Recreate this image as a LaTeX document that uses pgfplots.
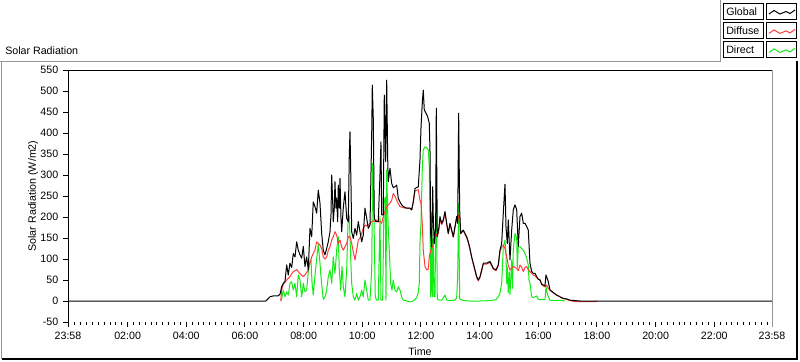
\documentclass[border=0pt]{standalone}
\usepackage{fontspec}
\setmainfont{Liberation Sans}
\usepackage{pgfplots}
\usepackage{pgfplotstable}
\pgfplotsset{compat=1.18}
\definecolor{cglob}{RGB}{0,0,0}
\definecolor{cdiff}{RGB}{255,60,60}
\definecolor{cdir}{RGB}{20,235,20}
\definecolor{frgray}{RGB}{150,150,150}

\pgfplotstableread{
h v
-0.033 0
6.716 0
6.740 2
6.852 10
6.955 12
7.125 12
7.193 16
7.251 34
7.306 42
7.364 46
7.422 86
7.476 62
7.534 90
7.592 80
7.647 113
7.705 105
7.763 141
7.817 121
7.875 110
7.933 102
7.988 130
8.045 82
8.103 105
8.158 74
8.216 173
8.274 153
8.328 236
8.386 225
8.444 209
8.499 264
8.557 233
8.615 161
8.669 121
8.727 110
8.785 125
8.840 141
8.898 165
8.932 205
8.956 300
8.990 236
9.010 189
9.044 221
9.068 284
9.102 221
9.126 245
9.160 189
9.181 276
9.215 221
9.239 292
9.273 197
9.297 165
9.351 221
9.385 245
9.409 260
9.467 197
9.522 189
9.556 348
9.580 403
9.614 276
9.638 165
9.692 149
9.750 173
9.808 157
9.863 189
9.921 165
9.979 141
10.033 157
10.091 221
10.149 197
10.204 173
10.262 181
10.320 395
10.340 514
10.374 435
10.408 197
10.466 189
10.544 189
10.602 300
10.636 379
10.660 205
10.715 205
10.749 490
10.773 419
10.797 332
10.831 526
10.865 340
10.885 284
10.943 316
11.001 280
11.056 270
11.114 272
11.172 276
11.226 245
11.284 236
11.342 229
11.397 225
11.513 221
11.625 221
11.683 217
11.738 236
11.796 268
11.908 272
11.966 336
12.000 411
12.044 471
12.078 502
12.113 455
12.171 447
12.228 439
12.283 423
12.307 360
12.331 161
12.365 129
12.399 272
12.419 201
12.453 137
12.501 177
12.522 459
12.556 153
12.614 177
12.648 201
12.706 185
12.760 193
12.818 213
12.876 185
12.931 161
12.989 185
13.047 169
13.101 153
13.159 177
13.217 201
13.251 185
13.285 447
13.319 217
13.353 161
13.442 169
13.500 161
13.558 153
13.613 141
13.670 125
13.728 105
13.783 90
13.841 74
13.899 58
13.954 50
14.012 58
14.070 74
14.124 90
14.240 90
14.352 94
14.410 86
14.465 78
14.557 74
14.635 86
14.693 121
14.751 137
14.806 209
14.864 278
14.898 177
14.942 137
14.976 193
15.034 98
15.092 169
15.147 217
15.205 229
15.263 217
15.317 130
15.375 201
15.433 209
15.488 185
15.546 185
15.604 177
15.658 169
15.716 90
15.774 70
15.829 66
15.886 66
15.944 58
15.999 52
16.057 50
16.115 40
16.169 38
16.227 36
16.261 62
16.312 52
16.340 46
16.398 26
16.510 20
16.626 14
16.739 10
16.851 6
16.967 5
17.080 2
17.250 1
17.420 0
23.967 0
}\tglobal

\pgfplotstableread{
h v
7.220 0
7.251 26
7.306 40
7.422 50
7.534 58
7.647 70
7.763 75
7.817 70
7.875 65
7.988 58
8.045 62
8.158 74
8.216 90
8.274 105
8.328 113
8.386 121
8.444 141
8.499 137
8.557 133
8.615 125
8.669 105
8.727 100
8.785 105
8.840 121
8.898 129
8.956 145
9.010 153
9.068 165
9.126 157
9.181 137
9.239 145
9.297 129
9.351 121
9.409 129
9.467 137
9.522 153
9.580 153
9.638 137
9.692 117
9.750 98
9.808 121
9.863 145
9.921 150
9.979 161
10.033 173
10.091 181
10.149 179
10.204 181
10.262 185
10.320 189
10.374 191
10.442 189
10.490 193
10.544 188
10.602 190
10.660 185
10.715 201
10.773 213
10.831 225
10.885 229
10.943 233
11.001 240
11.056 256
11.114 250
11.172 240
11.226 232
11.284 225
11.397 222
11.513 221
11.625 221
11.683 217
11.738 236
11.796 262
11.908 265
11.966 240
12.000 233
12.044 185
12.078 121
12.137 82
12.194 74
12.249 76
12.283 105
12.331 121
12.399 130
12.453 145
12.522 160
12.556 153
12.614 170
12.648 195
12.706 182
12.760 190
12.818 210
12.876 183
12.931 160
12.989 183
13.047 167
13.101 152
13.159 175
13.217 198
13.251 190
13.285 205
13.319 200
13.353 160
13.442 167
13.500 159
13.558 151
13.613 139
13.670 123
13.728 103
13.783 88
13.841 72
13.899 56
13.954 48
14.012 56
14.070 72
14.124 88
14.240 88
14.352 92
14.410 84
14.465 76
14.557 72
14.635 84
14.693 118
14.751 129
14.806 133
14.864 125
14.922 105
14.976 85
15.034 74
15.092 78
15.147 82
15.205 80
15.263 78
15.317 72
15.375 86
15.433 80
15.488 70
15.546 80
15.604 82
15.658 74
15.716 70
15.774 66
15.829 62
15.886 60
15.944 56
15.999 52
16.057 50
16.115 40
16.169 36
16.227 34
16.285 38
16.340 30
16.398 26
16.510 20
16.626 14
16.739 10
16.851 6
16.967 4
17.080 1
17.250 -1.5
17.932 -1.5
18.000 0
}\tdiffuse

\pgfplotstableread{
h v
7.220 0
7.251 6
7.306 26
7.364 10
7.422 22
7.476 14
7.534 42
7.592 46
7.647 26
7.705 42
7.763 10
7.817 62
7.875 50
7.933 10
7.988 42
8.045 22
8.103 26
8.158 70
8.216 95
8.250 98
8.284 46
8.328 14
8.386 60
8.444 100
8.499 135
8.557 90
8.591 58
8.635 26
8.669 4
8.727 10
8.785 26
8.840 58
8.898 74
8.956 42
9.010 105
9.068 66
9.126 121
9.181 153
9.215 74
9.263 26
9.307 82
9.351 34
9.409 10
9.467 74
9.522 209
9.556 201
9.603 105
9.638 42
9.692 10
9.750 2
9.808 18
9.863 2
9.921 10
9.979 26
10.033 10
10.091 50
10.149 26
10.204 2
10.262 2
10.320 74
10.354 328
10.398 193
10.442 10
10.490 2
10.544 2
10.602 201
10.636 2
10.694 2
10.739 233
10.783 248
10.807 2
10.831 312
10.865 209
10.919 121
10.967 42
11.011 26
11.056 50
11.114 26
11.172 22
11.226 34
11.284 26
11.342 10
11.397 2
11.513 0
11.625 -2
11.738 0
11.796 4
11.854 8
11.908 20
11.942 42
11.966 137
12.000 185
12.044 312
12.078 360
12.137 367
12.194 365
12.249 360
12.283 320
12.307 200
12.331 10
12.365 200
12.385 10
12.419 150
12.443 10
12.477 10
12.522 300
12.556 5
12.614 2
12.706 2
12.818 14
12.876 2
12.989 1
13.159 2
13.217 8
13.251 60
13.285 233
13.319 5
13.442 1
13.670 0
14.012 0
14.352 1
14.557 3
14.635 10
14.693 19
14.751 42
14.806 129
14.864 145
14.898 113
14.922 42
14.942 80
14.976 20
15.010 70
15.034 15
15.092 98
15.120 30
15.147 121
15.205 161
15.263 150
15.283 80
15.317 129
15.375 129
15.433 125
15.488 121
15.546 113
15.604 102
15.658 85
15.682 50
15.716 42
15.774 10
15.829 8
15.886 10
15.944 12
15.999 4
16.115 3
16.227 3
16.261 34
16.312 15
16.398 2
16.568 1
16.739 2
16.909 0
}\tdirect

\begin{document}
\begin{tikzpicture}
\useasboundingbox (0,0) rectangle (600pt,-270.75pt);
\begin{axis}[
  at={(51pt,-241.5pt)}, anchor=south west,
  scale only axis, width=528pt, height=189pt,
  xmin=-0.0333, xmax=23.9667, ymin=-50, ymax=550,
  axis line style={draw=none},
  tick align=outside,
  xtick pos=left, ytick pos=left,
  xtick={-0.0333,2,4,6,8,10,12,14,16,18,20,22,23.9667},
  xticklabels={23:58,02:00,04:00,06:00,08:00,10:00,12:00,14:00,16:00,18:00,20:00,22:00,23:58},
  minor xtick={0.2,0.4,0.6,0.8,1,1.2,1.4,1.6,1.8,2.2,2.4,2.6,2.8,3,3.2,3.4,3.6,3.8,4.2,4.4,4.6,4.8,5,5.2,5.4,5.6,5.8,6.2,6.4,6.6,6.8,7,7.2,7.4,7.6,7.8,8.2,8.4,8.6,8.8,9,9.2,9.4,9.6,9.8,10.2,10.4,10.6,10.8,11,11.2,11.4,11.6,11.8,12.2,12.4,12.6,12.8,13,13.2,13.4,13.6,13.8,14.2,14.4,14.6,14.8,15,15.2,15.4,15.6,15.8,16.2,16.4,16.6,16.8,17,17.2,17.4,17.6,17.8,18.2,18.4,18.6,18.8,19,19.2,19.4,19.6,19.8,20.2,20.4,20.6,20.8,21,21.2,21.4,21.6,21.8,22.2,22.4,22.6,22.8,23,23.2,23.4,23.6,23.8},
  ytick={-50,0,50,100,150,200,250,300,350,400,450,500,550},
  yticklabels={-50,0,50,100,150,200,250,300,350,400,450,500,550},
  major tick length=3.75pt, minor tick length=2.25pt,
  every tick/.style={black, line width=0.75pt},
  minor tick style={black, line width=0.75pt},
  tick label style={font=\fontsize{8}{9.6}\selectfont},
  xlabel={Time}, ylabel={Solar Radiation (W/m2)},
  label style={font=\fontsize{8}{9.6}\selectfont},
  xlabel style={at={(axis description cs:0.5,-0.119)}, anchor=center},
  ylabel style={at={(axis description cs:-0.0497,0.5)}, anchor=center},
  clip=false,
]
\addplot[cdir, line width=0.75pt, line join=round] table[x=h,y=v] {\tdirect};
\addplot[cdiff, line width=0.75pt, line join=round] table[x=h,y=v] {\tdiffuse};
\addplot[cglob, line width=0.75pt, line join=round] table[x=h,y=v] {\tglobal};
\draw[black, line width=0.75pt] (rel axis cs:0,-0.02) -- (rel axis cs:0,1) -- (rel axis cs:1,1);
\draw[frgray, line width=0.75pt] (rel axis cs:1,1) -- (rel axis cs:1,-0.02);
\end{axis}
\begin{scope}[x=0.75pt,y=-0.75pt]
  \draw[frgray, line width=0.75pt] (0,61) -- (720.7,61);
  \draw[frgray, line width=0.75pt] (720.7,0) -- (720.7,61);
  \draw[frgray, line width=0.75pt] (1.7,61) -- (1.7,359);
  \draw[black, line width=1.5pt] (1.7,359.3) -- (796.7,359.3) -- (796.7,61);
  \node[anchor=west, inner sep=0pt, font=\fontsize{8}{9.6}\selectfont] at (5,51) {Solar Radiation};
  % legend
  \draw[black, line width=0.9pt] (723.3,3.3) rectangle (763.3,19.3);
  \node[anchor=west, inner sep=0pt, font=\fontsize{8}{9.6}\selectfont] at (726,11.5) {Global};
  \draw[black, line width=0.9pt] (766.7,3.3) rectangle (796.7,19.3);
  \draw[cglob, line width=0.75pt] (769,14)--(774,10.5)--(780,14)--(786,11.5)--(790,13.5)--(795,10);
  \draw[black, line width=0.9pt] (723.3,22.7) rectangle (763.3,38.7);
  \node[anchor=west, inner sep=0pt, font=\fontsize{8}{9.6}\selectfont] at (726,30.9) {Diffuse};
  \draw[black, line width=0.9pt] (766.7,22.7) rectangle (796.7,38.7);
  \draw[cdiff, line width=0.75pt] (769,33.4)--(774,29.9)--(780,33.4)--(786,30.9)--(790,32.9)--(795,29.4);
  \draw[black, line width=0.9pt] (723.3,41.7) rectangle (763.3,57.7);
  \node[anchor=west, inner sep=0pt, font=\fontsize{8}{9.6}\selectfont] at (726,49.9) {Direct};
  \draw[black, line width=0.9pt] (766.7,41.7) rectangle (796.7,57.7);
  \draw[cdir, line width=0.75pt] (769,52.4)--(774,48.9)--(780,52.4)--(786,49.9)--(790,51.9)--(795,48.4);
\end{scope}
\end{tikzpicture}
\end{document}
